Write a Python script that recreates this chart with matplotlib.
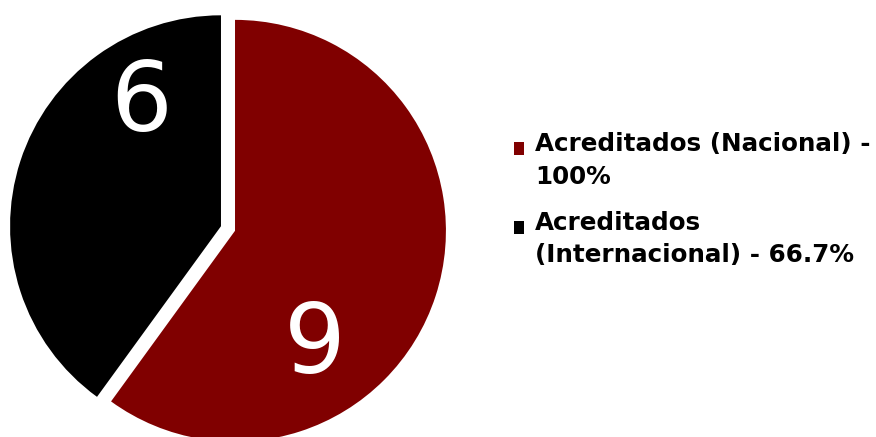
import matplotlib.pyplot as plt
from matplotlib.legend_handler import HandlerPatch
from matplotlib.patches import Rectangle, Wedge

# datos del gráfico
categorias = ['Acreditados (Nacional) -\n100%', 'Acreditados\n(Internacional) - 66.7%']
valores = [9, 6]
colores = ['#800000', '#000000']


class CuadroArriba(HandlerPatch):
    """Cuadro de la leyenda alineado con la primera línea del texto"""

    def create_artists(self, legend, orig_handle, xdescent, ydescent,
                       width, height, fontsize, trans):
        sube = 0.5 * fontsize
        p = Rectangle((-xdescent, -ydescent + sube), width, height,
                      facecolor=orig_handle.get_facecolor(), edgecolor='none',
                      transform=trans)
        return [p]


W, H = 876, 437
fig = plt.figure(figsize=(W / 100, H / 100), dpi=100)

# ejes cuadrados centrados en el pastel (radio = 211 px)
cx, cy, media = 228, H - 228.5, 232
ax = fig.add_axes([(cx - media) / W, (cy - media) / H, 2 * media / W, 2 * media / H])
wedges, _ = ax.pie(valores, colors=colores, startangle=90, counterclock=False,
                   explode=[0.035, 0.035], radius=1)
ax.set_xlim(-1.1, 1.1)
ax.set_ylim(-1.1, 1.1)
ax.axis('off')

# etiquetas de valor
pos_etiquetas = [(0.412, -0.56), (-0.41, 0.59)]
for v, (x, y) in zip(valores, pos_etiquetas):
    ax.text(x, y, str(v), color='white', fontsize=70, ha='center', va='center',
            family='DejaVu Sans')

leg = fig.legend(wedges, categorias, loc='upper left',
                 bbox_to_anchor=(514 / W, 1 - 132 / H), frameon=False,
                 prop={'family': 'DejaVu Sans', 'weight': 'bold', 'size': 17.7},
                 handlelength=0.4, handleheight=0.4, handletextpad=0.45,
                 labelspacing=0.9, borderpad=0, borderaxespad=0,
                 handler_map={Wedge: CuadroArriba()})
for t in leg.get_texts():
    t.set_linespacing(1.45)

fig.savefig('out.png', dpi=100)
